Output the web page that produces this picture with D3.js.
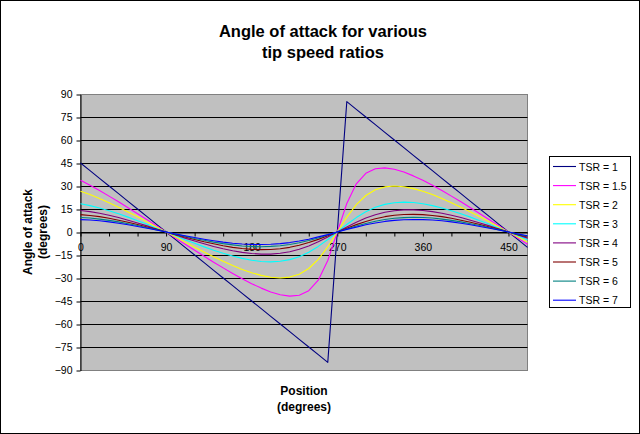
<!DOCTYPE html>
<html>
<head>
<meta charset="utf-8">
<script src="https://cdn.jsdelivr.net/npm/d3@7"></script>
<style>
  html, body { margin: 0; padding: 0; background: #fff; }
  svg { display: block; font-family: "Liberation Sans", Arial, sans-serif; }
</style>
</head>
<body>
<svg id="chart" width="640" height="434"></svg>
<script>
// ---- data ----
const positions = [0,10,20,30,40,50,60,70,80,90,100,110,120,130,140,150,160,170,180,190,200,210,220,230,240,250,260,270,280,290,300,310,320,330,340,350,360,370,380,390,400,410,420,430,440,450,460,470];
const seriesNames = ["TSR = 1","TSR = 1.5","TSR = 2","TSR = 3","TSR = 4","TSR = 5","TSR = 6","TSR = 7"];
const seriesColors = ["#000080","#FF00FF","#FFFF00","#00FFFF","#800080","#800000","#008080","#0000FF"];

const tsr1 = [45,40,35,30,25,20,15,10,5,0,-5,-10,-15,-20,-25,-30,-35,-40,-45,-50,-55,-60,-65,-70,-75,-80,-85,0,85,80,75,70,65,60,55,50,45,40,35,30,25,20,15,10,5,0,-5,-10];
const tsr15 = [33.7,30.5,27.0,23.4,19.7,15.8,11.9,8.0,4.0,0,-4.0,-8.0,-11.9,-15.8,-19.7,-23.4,-27.0,-30.5,-33.7,-36.6,-39.1,-40.9,-41.8,-41.2,-38.3,-31.4,-18.6,0,18.6,31.4,38.3,41.2,41.8,40.9,39.1,36.6,33.7,30.5,27.0,23.4,19.7,15.8,11.9,8.0,4.0,0,-4.0,-8.0];
const tsr2 = [26.6,24.4,21.9,19.1,16.2,13.1,9.9,6.6,3.3,0,-3.3,-6.6,-9.9,-13.1,-16.2,-19.1,-21.9,-24.4,-26.6,-28.3,-29.5,-30.0,-29.4,-27.5,-23.8,-17.9,-9.7,0,9.7,17.9,23.8,27.5,29.4,30.0,29.5,28.3,26.6,24.4,21.9,19.1,16.2,13.1,9.9,6.6,3.3,0,-3.3,-6.6];
const tsr3 = [18.4,17.2,15.7,13.9,11.9,9.7,7.4,5.0,2.5,0,-2.5,-5.0,-7.4,-9.7,-11.9,-13.9,-15.7,-17.2,-18.4,-19.2,-19.5,-19.1,-18.0,-16.1,-13.2,-9.4,-4.9,0,4.9,9.4,13.2,16.1,18.0,19.1,19.5,19.2,18.4,17.2,15.7,13.9,11.9,9.7,7.4,5.0,2.5,0,-2.5,-5.0];
const tsr4 = [14.0,13.3,12.2,10.9,9.4,7.7,5.9,4.0,2.0,0,-2.0,-4.0,-5.9,-7.7,-9.4,-10.9,-12.2,-13.3,-14.0,-14.4,-14.4,-13.9,-12.9,-11.2,-9.1,-6.4,-3.3,0,3.3,6.4,9.1,11.2,12.9,13.9,14.4,14.4,14.0,13.3,12.2,10.9,9.4,7.7,5.9,4.0,2.0,0,-2.0,-4.0];
const tsr5 = [11.3,10.8,10.0,9.0,7.7,6.4,4.9,3.3,1.7,0,-1.7,-3.3,-4.9,-6.4,-7.7,-9.0,-10.0,-10.8,-11.3,-11.5,-11.4,-10.9,-10.0,-8.6,-6.9,-4.8,-2.5,0,2.5,4.8,6.9,8.6,10.0,10.9,11.4,11.5,11.3,10.8,10.0,9.0,7.7,6.4,4.9,3.3,1.7,0,-1.7,-3.3];
const tsr6 = [9.5,9.1,8.4,7.6,6.6,5.4,4.2,2.8,1.4,0,-1.4,-2.8,-4.2,-5.4,-6.6,-7.6,-8.4,-9.1,-9.5,-9.6,-9.4,-9.0,-8.1,-7.0,-5.6,-3.9,-2.0,0,2.0,3.9,5.6,7.0,8.1,9.0,9.4,9.6,9.5,9.1,8.4,7.6,6.6,5.4,4.2,2.8,1.4,0,-1.4,-2.8];
const tsr7 = [8.1,7.8,7.3,6.6,5.7,4.7,3.6,2.5,1.3,0,-1.3,-2.5,-3.6,-4.7,-5.7,-6.6,-7.3,-7.8,-8.1,-8.2,-8.0,-7.6,-6.9,-5.9,-4.7,-3.2,-1.7,0,1.7,3.2,4.7,5.9,6.9,7.6,8.0,8.2,8.1,7.8,7.3,6.6,5.7,4.7,3.6,2.5,1.3,0,-1.3,-2.5];

const yTicks = [-90,-75,-60,-45,-30,-15,0,15,30,45,60,75,90];
const xTickMarks = [0,30,60,90,120,150,180,210,240,270,300,330,360,390,420,450];
const xTickLabels = [0,90,180,270,360,450];

const titleLines = ["Angle of attack for various","tip speed ratios"];
const yTitleLines = ["Angle of attack","(degrees)"];
const xTitleLines = ["Position","(degrees)"];

// ---- build ----
const allSeries = [tsr1,tsr15,tsr2,tsr3,tsr4,tsr5,tsr6,tsr7];
const svg = d3.select("#chart");

const plot = {left: 80.5, right: 527.5, top: 94, bottom: 370};
const x = d3.scaleLinear().domain([0, 470]).range([plot.left, plot.right]);
const y = d3.scaleLinear().domain([-90, 90]).range([plot.bottom, plot.top]);

// outer border
svg.append("rect").attr("x",0.5).attr("y",0.5).attr("width",639).attr("height",433)
  .attr("fill","#fff").attr("stroke","#000");

// plot background
svg.append("rect").attr("x",plot.left).attr("y",plot.top+0.5)
  .attr("width",plot.right-plot.left).attr("height",plot.bottom-plot.top)
  .attr("fill","#C0C0C0").attr("stroke","#808080");

// gridlines
svg.append("g").selectAll("line").data(yTicks.filter(d=>d!==-90 && d!==90)).join("line")
  .attr("x1",plot.left).attr("x2",plot.right)
  .attr("y1",d=>Math.round(y(d))+0.5).attr("y2",d=>Math.round(y(d))+0.5)
  .attr("stroke","#000").attr("stroke-width",1);

// y axis
const yAxis = svg.append("g").attr("transform",`translate(${plot.left},0.5)`)
  .call(d3.axisLeft(y).tickValues(yTicks).tickSize(4).tickPadding(4).tickSizeOuter(0));
yAxis.select(".domain").attr("stroke","#000");
yAxis.selectAll(".tick line").attr("stroke","#000");
yAxis.selectAll(".tick text").attr("font-size","10.5px").attr("fill","#000")
  .attr("font-family","'Liberation Sans', Arial, sans-serif");

// x axis (crossing at 0)
const y0 = Math.round(y(0))+0.5;
const xAxis = svg.append("g").attr("transform",`translate(0,${y0})`)
  .call(d3.axisBottom(x).tickValues(xTickMarks).tickSize(4).tickFormat("").tickSizeOuter(0));
xAxis.select(".domain").attr("stroke","#000");
xAxis.selectAll(".tick line").attr("stroke","#000");
const xLab = svg.append("g").attr("transform",`translate(0,${y0})`)
  .call(d3.axisBottom(x).tickValues(xTickLabels).tickSize(0).tickPadding(11).tickFormat(d=>String(d)));
xLab.select(".domain").remove();
xLab.selectAll(".tick text").attr("font-size","10.5px").attr("fill","#000")
  .attr("font-family","'Liberation Sans', Arial, sans-serif");

// series
const line = d3.line().x((d,i)=>x(positions[i])).y(d=>y(d));
svg.append("g").selectAll("path").data(allSeries).join("path")
  .attr("d", d=>line(d))
  .attr("fill","none")
  .attr("stroke",(d,i)=>seriesColors[i])
  .attr("stroke-width",1.1)
  .attr("stroke-linejoin","round");

// title
svg.append("text").attr("text-anchor","middle").attr("font-size","16.5px").attr("font-weight","bold")
  .selectAll("tspan").data(titleLines).join("tspan")
  .attr("x",323).attr("y",(d,i)=>37+i*21).text(d=>d);

// x title
svg.append("text").attr("text-anchor","middle").attr("font-size","12px").attr("font-weight","bold")
  .selectAll("tspan").data(xTitleLines).join("tspan")
  .attr("x",304).attr("y",(d,i)=>395+i*16).text(d=>d);

// y title
svg.append("text").attr("text-anchor","middle").attr("font-size","12px").attr("font-weight","bold")
  .attr("transform","translate(0,232) rotate(-90)")
  .selectAll("tspan").data(yTitleLines).join("tspan")
  .attr("x",0).attr("y",(d,i)=>32+i*15).text(d=>d);

// legend
const leg = svg.append("g");
leg.append("rect").attr("x",549.5).attr("y",156.5).attr("width",81).attr("height",151)
  .attr("fill","#fff").attr("stroke","#000");
const items = leg.selectAll("g.item").data(seriesNames).join("g").attr("class","item")
  .attr("transform",(d,i)=>`translate(0,${166+i*19.1})`);
items.append("line").attr("x1",553).attr("x2",576).attr("y1",0.5).attr("y2",0.5)
  .attr("stroke",(d,i)=>seriesColors[i]).attr("stroke-width",1.1);
items.append("text").attr("x",579).attr("y",4.5).attr("font-size","10.5px").text(d=>d);
</script>
</body>
</html>
